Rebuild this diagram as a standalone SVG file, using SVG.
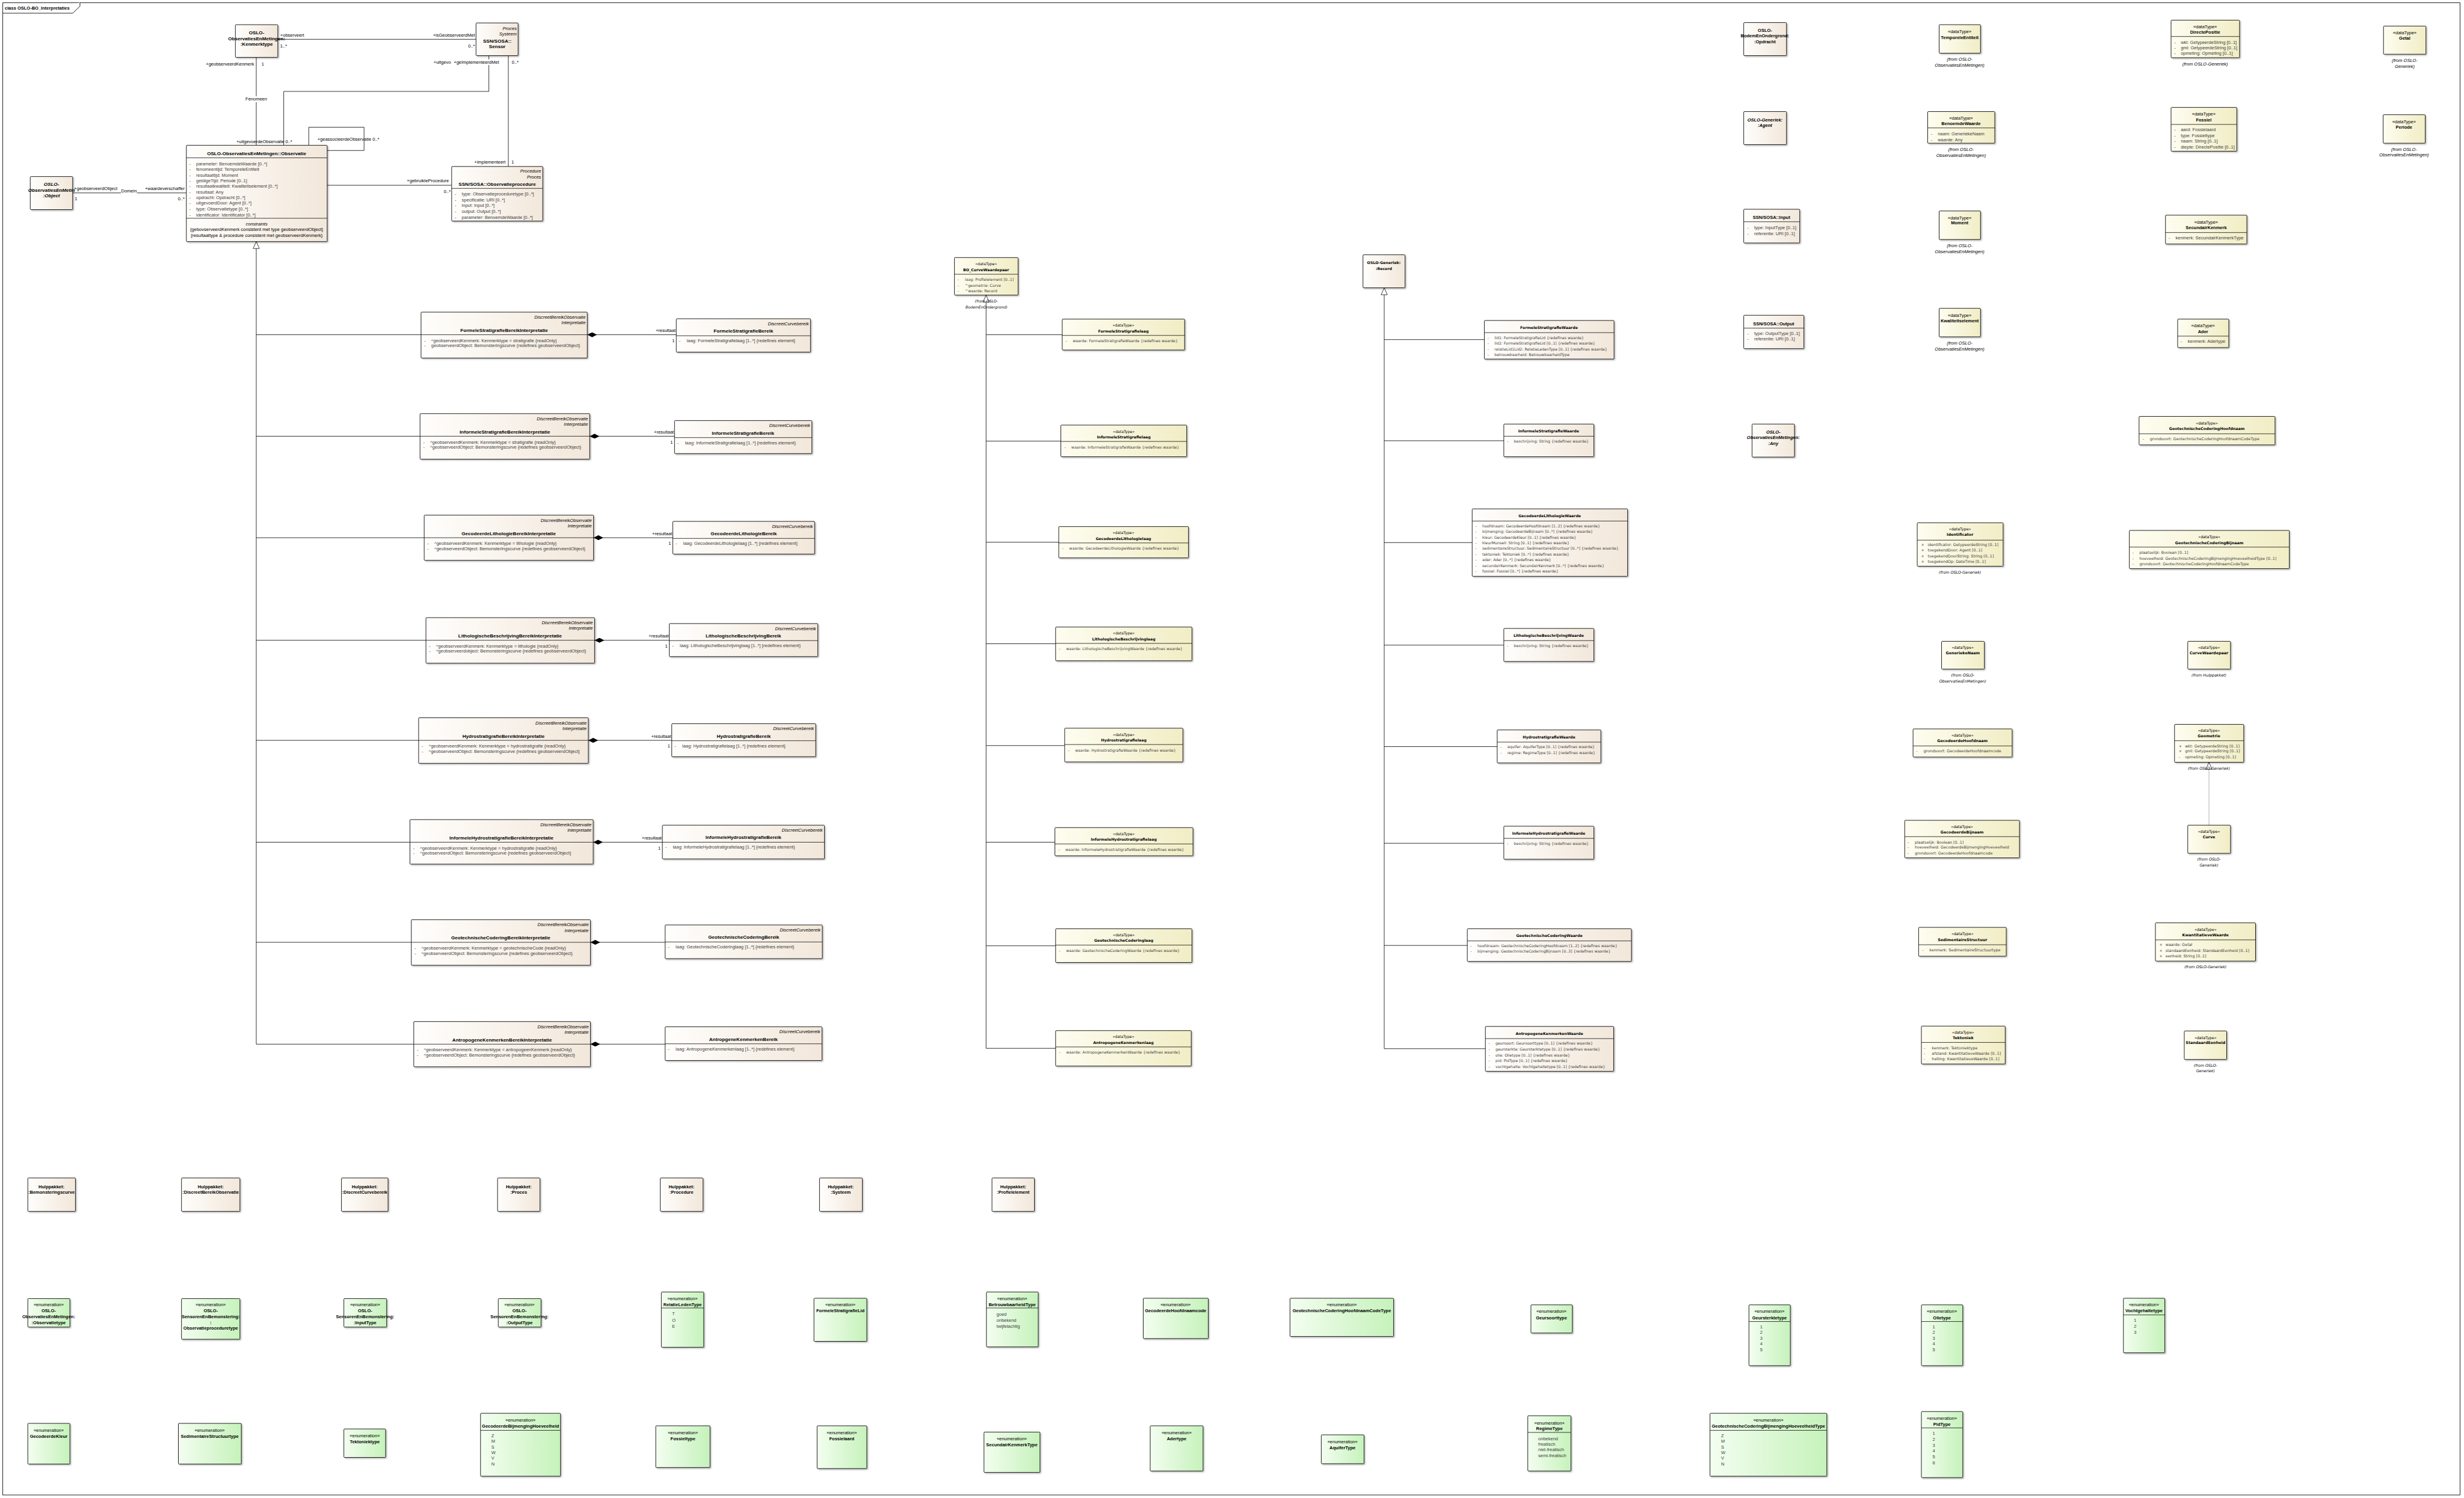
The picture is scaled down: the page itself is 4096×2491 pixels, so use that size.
<svg xmlns="http://www.w3.org/2000/svg" width="4096" height="2491" viewBox="0 0 4096 2491">
<style>
text{font-family:"Liberation Sans",Arial,sans-serif;font-size:13px;fill:#000}
.t{font-weight:bold;font-size:14px}
.t13{font-weight:bold;font-size:13px}
.a{fill:#404040}
.it{font-style:italic}
.m{text-anchor:middle}
.r{text-anchor:end}
.v{font-family:"DejaVu Sans",Verdana,sans-serif;font-size:10.8px}
.w{font-family:"DejaVu Sans",Verdana,sans-serif;font-size:11px}
.bd{font-weight:bold}
.c{fill:url(#gc);stroke:#000;stroke-width:1.5;filter:url(#sh)}
.d{fill:url(#gd);stroke:#000;stroke-width:1.5;filter:url(#sh)}
.e{fill:url(#ge);stroke:#000;stroke-width:1.5;filter:url(#sh)}
.sp{stroke:#000;stroke-width:1.3}
.ln{fill:none;stroke:#000;stroke-width:1.4}
.gen{marker-end:url(#tri)}
.comp{marker-start:url(#dia)}
</style>
<defs>
<linearGradient id="gc" x1="0" y1="0" x2="1" y2="0"><stop offset="0" stop-color="#FFFEFC"/><stop offset="1" stop-color="#F2E7DA"/></linearGradient>
<linearGradient id="gd" x1="0" y1="0" x2="1" y2="0"><stop offset="0" stop-color="#FEFDF0"/><stop offset="1" stop-color="#F1EDC5"/></linearGradient>
<linearGradient id="ge" x1="0" y1="0" x2="1" y2="0"><stop offset="0" stop-color="#F3FEF0"/><stop offset="1" stop-color="#C6F2BB"/></linearGradient>
<filter id="sh" x="-5%" y="-5%" width="115%" height="120%"><feDropShadow dx="3" dy="3" stdDeviation="1.5" flood-color="#000" flood-opacity="0.28"/></filter>
<marker id="dia" viewBox="0 0 28 14" refX="0" refY="7" markerWidth="28" markerHeight="14" markerUnits="userSpaceOnUse" orient="auto"><path d="M0,7 L14,0 L28,7 L14,14 Z" fill="#000"/></marker>
<marker id="tri" viewBox="0 0 22 20" refX="21" refY="10" markerWidth="22" markerHeight="20" markerUnits="userSpaceOnUse" orient="auto"><path d="M1,1 L21,10 L1,19 Z" fill="#fff" stroke="#000" stroke-width="1.3"/></marker>
</defs>
<rect width="4096" height="2491" fill="#fff"/>
<g transform="scale(0.578)">
<g id="frame">
<rect x="8" y="8" width="7067" height="4293" fill="none" stroke="#000" stroke-width="1.5"/>
<path d="M8 38 H209 L230 18 V8" fill="#fff" stroke="#000" stroke-width="1.5"/>
<text class="t13" x="14" y="28">class OSLO-BO_Interpretaties</text>
</g>

<g id="connectors">
<path class="ln" d="M799 113 H1369"/>
<path class="ln" d="M737 165 V418"/>
<path class="ln" d="M1406 160 V263 H816 V418"/>
<path class="ln" d="M1462 160 V479"/>
<path class="ln" d="M888 418 V366 H1047 V433 H941"/>
<path class="ln" d="M209 555 H536"/>
<path class="ln" d="M941 533 H1299"/>
<path class="ln gen" d="M737 3004 V695"/>
<path class="ln" d="M737 963 H1211 M737 1255 H1208 M737 1547 H1220 M737 1842 H1225 M737 2130 H1204 M737 2423 H1179 M737 2711 H1183 M737 3004 H1190"/>
<path class="ln comp" d="M1689 963 H1945"/>
<path class="ln comp" d="M1696 1255 H1940"/>
<path class="ln comp" d="M1707 1547 H1935"/>
<path class="ln comp" d="M1710 1842 H1925"/>
<path class="ln comp" d="M1692 2130 H1932"/>
<path class="ln comp" d="M1706 2423 H1905"/>
<path class="ln comp" d="M1698 2711 H1913"/>
<path class="ln comp" d="M1698 3004 H1913"/>
<path class="ln gen" d="M2836 3016 V849"/>
<path class="ln" d="M2836 963 H3055 M2836 1269 H3051 M2836 1560 H3045 M2836 1852 H3036 M2836 2145 H3062 M2836 2423 H3034 M2836 2721 H3036 M2836 3016 H3036"/>
<path class="ln gen" d="M3981 3017 V828"/>
<path class="ln" d="M3981 977 H4269 M3981 1268 H4325 M3981 1561 H4234 M3981 1856 H4325 M3981 2148 H4306 M3981 2426 H4325 M3981 2720 H4220 M3981 3017 H4272"/>
<path class="gen" d="M6353 2374 V2193" fill="none" stroke="#9a9a9a" stroke-width="1.3"/>
<text x="806" y="105">+observeert</text>
<text x="806" y="137">1..*</text>
<text class="r" x="1366" y="105">+isGeobserveerdMet</text>
<text class="r" x="1366" y="137">0..*</text>
<text class="r" x="731" y="188">+geobserveerdKenmerk</text>
<text x="752" y="188">1</text>
<rect x="705" y="277" width="64" height="17" fill="#fff"/>
<text class="m" x="737" y="289">Fenomeen</text>
<text class="r" x="818" y="412">+uitgevoerdeObservatie</text>
<text x="821" y="412">0..*</text>
<text x="1247" y="183">+uitgevo</text>
<rect x="1303" y="171" width="146" height="16" fill="#fff"/>
<text x="1305" y="183">+geïmplementeerdMet</text>
<text x="1472" y="183">0..*</text>
<text class="r" x="1454" y="470">+implementeert</text>
<text x="1471" y="470">1</text>
<text x="913" y="405">+geassocieerdeObservatie 0..*</text>
<text x="213" y="547">+geobserveerdObject</text>
<text x="215" y="576">1</text>
<rect x="348" y="541" width="46" height="17" fill="#fff"/>
<text class="m" x="371" y="553">Domein</text>
<text class="r" x="531" y="547">+waardeverschaffer</text>
<text class="r" x="531" y="576">0..*</text>
<text class="r" x="1291" y="524">+gebruikteProcedure</text>
<text class="r" x="1296" y="555">0..*</text>
<text class="r" x="1943" y="955">+resultaat</text><text class="r" x="1940" y="984">1</text>
<text class="r" x="1938" y="1247">+resultaat</text><text class="r" x="1935" y="1276">1</text>
<text class="r" x="1933" y="1539">+resultaat</text><text class="r" x="1930" y="1568">1</text>
<text class="r" x="1923" y="1834">+resultaat</text><text class="r" x="1920" y="1863">1</text>
<text class="r" x="1930" y="2122">+resultaat</text><text class="r" x="1927" y="2151">1</text>
<text class="r" x="1903" y="2415">+resultaat</text><text class="r" x="1900" y="2444">1</text>
</g>

<g id="n-kenmerktype">
<rect class="c" x="677" y="71" width="122" height="94" rx="2"/>
<text class="t m" x="738" y="99">OSLO-</text>
<text class="t m" x="738" y="116">ObservatiesEnMetingen:</text>
<text class="t m" x="738" y="132">:Kenmerktype</text>
</g>
<g id="n-sensor">
<rect class="c" x="1369" y="66" width="121" height="94" rx="2"/>
<text class="it r" x="1486" y="86">Proces</text>
<text class="it r" x="1486" y="102">Systeem</text>
<text class="t m" x="1430" y="122">SSN/SOSA::</text>
<text class="t m" x="1430" y="138">Sensor</text>
</g>
<g id="n-object">
<rect class="c" x="87" y="508" width="122" height="95" rx="2"/>
<text class="t it m" x="148" y="535">OSLO-</text>
<text class="t it m" x="148" y="552">ObservatiesEnMetin</text>
<text class="t it m" x="148" y="568">:Object</text>
</g>
<g id="n-observatie">
<rect class="c" x="536" y="418" width="405" height="277" rx="2"/>
<text class="t m" x="738" y="446">OSLO-ObservatiesEnMetingen::Observatie</text>
<line class="sp" x1="536" y1="454" x2="941" y2="454"/>
<text class="a" x="544" y="475">-<tspan x="564">parameter: BenoemdeWaarde [0..*]</tspan></text>
<text class="a" x="544" y="491">-<tspan x="564">fenomeentijd: TemporeleEntiteit</tspan></text>
<text class="a" x="544" y="508">-<tspan x="564">resultaattijd: Moment</tspan></text>
<text class="a" x="544" y="524">-<tspan x="564">geldigeTijd: Periode [0..1]</tspan></text>
<text class="a" x="544" y="540">-<tspan x="564">resultaatkwaliteit: Kwaliteitselement [0..*]</tspan></text>
<text class="a" x="544" y="557">-<tspan x="564">resultaat: Any</tspan></text>
<text class="a" x="544" y="573">-<tspan x="564">opdracht: Opdracht [0..*]</tspan></text>
<text class="a" x="544" y="589">-<tspan x="564">uitgevoerdDoor: Agent [0..*]</tspan></text>
<text class="a" x="544" y="605">-<tspan x="564">type: Observatietype [0..*]</tspan></text>
<text class="a" x="544" y="622">-<tspan x="564">identificator: Identificator [0..*]</tspan></text>
<line class="sp" x1="536" y1="628" x2="941" y2="628"/>
<text class="it m" x="738" y="649">constraints</text>
<text class="m" x="738" y="665">{gebovserveerdKenmerk consistent met type geobserveerdObject}</text>
<text class="m" x="738" y="681">{resultaattype &amp; procedure consistent met geobserveerdKenmerk}</text>
</g>
<g id="n-observatieprocedure">
<rect class="c" x="1299" y="479" width="262" height="157" rx="2"/>
<text class="it r" x="1556" y="497">Procedure</text>
<text class="it r" x="1556" y="514">Proces</text>
<text class="t m" x="1430" y="534">SSN/SOSA::Observatieprocedure</text>
<line class="sp" x1="1299" y1="542" x2="1561" y2="542"/>
<text class="a" x="1308" y="562">-<tspan x="1328">type: Observatieproceduretype [0..*]</tspan></text>
<text class="a" x="1308" y="579">-<tspan x="1328">specificatie: URI [0..*]</tspan></text>
<text class="a" x="1308" y="595">-<tspan x="1328">input: Input [0..*]</tspan></text>
<text class="a" x="1308" y="612">-<tspan x="1328">output: Output [0..*]</tspan></text>
<text class="a" x="1308" y="629">-<tspan x="1328">parameter: BenoemdeWaarde [0..*]</tspan></text>
</g>

<g id="n-formele-interp">
<rect class="c" x="1211" y="898" width="478" height="132" rx="2"/>
<text class="it r" x="1684" y="917">DiscreetBereikObservatie</text><text class="it r" x="1684" y="933">Interpretatie</text>
<text class="t m" x="1450" y="955">FormeleStratigrafieBereikInterpretatie</text>
<line class="sp" x1="1211" y1="963" x2="1689" y2="963"/>
<text class="a" x="1220" y="984">-<tspan x="1240">^geobserveerdKenmerk: Kenmerktype = stratigrafie {readOnly}</tspan></text>
<text class="a" x="1220" y="999">-<tspan x="1240">geobserveerdObject: Bemonsteringscurve {redefines geobserveerdObject}</tspan></text>
</g>
<g id="n-informele-interp">
<rect class="c" x="1208" y="1190" width="488" height="131" rx="2"/>
<text class="it r" x="1691" y="1209">DiscreetBereikObservatie</text><text class="it r" x="1691" y="1225">Interpretatie</text>
<text class="t m" x="1452" y="1247">InformeleStratigrafieBereikInterpretatie</text>
<line class="sp" x1="1208" y1="1255" x2="1696" y2="1255"/>
<text class="a" x="1217" y="1276">-<tspan x="1237">^geobserveerdKenmerk: Kenmerktype = stratigrafie {readOnly}</tspan></text>
<text class="a" x="1217" y="1291">-<tspan x="1237">^geobserveerdObject: Bemonsteringscurve {redefines geobserveerdObject}</tspan></text>
</g>
<g id="n-gecodeerde-interp">
<rect class="c" x="1220" y="1482" width="487" height="130" rx="2"/>
<text class="it r" x="1702" y="1501">DiscreetBereikObservatie</text><text class="it r" x="1702" y="1517">Interpretatie</text>
<text class="t m" x="1463" y="1539">GecodeerdeLithologieBereikInterpretatie</text>
<line class="sp" x1="1220" y1="1547" x2="1707" y2="1547"/>
<text class="a" x="1229" y="1568">-<tspan x="1249">^geobserveerdKenmerk: Kenmerktype = lithologie {readOnly}</tspan></text>
<text class="a" x="1229" y="1583">-<tspan x="1249">^geobserveerdObject: Bemonsteringscurve {redefines geobserveerdObject}</tspan></text>
</g>
<g id="n-litho-interp">
<rect class="c" x="1225" y="1777" width="485" height="131" rx="2"/>
<text class="it r" x="1705" y="1796">DiscreetBereikObservatie</text><text class="it r" x="1705" y="1812">Interpretatie</text>
<text class="t m" x="1467" y="1834">LithologischeBeschrijvingBereikInterpretatie</text>
<line class="sp" x1="1225" y1="1842" x2="1710" y2="1842"/>
<text class="a" x="1234" y="1863">-<tspan x="1254">^geobserveerdKenmerk: Kenmerktype = lithologie {readOnly}</tspan></text>
<text class="a" x="1234" y="1878">-<tspan x="1254">^geobserveerdobject: Bemonsteringscurve {redefines geobserveerdObject}</tspan></text>
</g>
<g id="n-hydro-interp">
<rect class="c" x="1204" y="2065" width="488" height="131" rx="2"/>
<text class="it r" x="1687" y="2084">DiscreetBereikObservatie</text><text class="it r" x="1687" y="2100">Interpretatie</text>
<text class="t m" x="1448" y="2122">HydrostratigrafieBereikInterpretatie</text>
<line class="sp" x1="1204" y1="2130" x2="1692" y2="2130"/>
<text class="a" x="1213" y="2151">-<tspan x="1233">^geobserveerdKenmerk: Kenmerktype = hydrostratigrafie {readOnly}</tspan></text>
<text class="a" x="1213" y="2166">-<tspan x="1233">^geobserveerdObject: Bemonsteringscurve {redefines geobserveerdObject}</tspan></text>
</g>
<g id="n-infohydro-interp">
<rect class="c" x="1179" y="2358" width="527" height="128" rx="2"/>
<text class="it r" x="1701" y="2377">DiscreetBereikObservatie</text><text class="it r" x="1701" y="2393">Interpretatie</text>
<text class="t m" x="1442" y="2415">InformeleHydrostratigrafieBereikInterpretatie</text>
<line class="sp" x1="1179" y1="2423" x2="1706" y2="2423"/>
<text class="a" x="1188" y="2444">-<tspan x="1208">^geobserveerdKenmerk: Kenmerktype = hydrostratigrafie {readOnly}</tspan></text>
<text class="a" x="1188" y="2459">-<tspan x="1208">^geobserveerdObject: Bemonsteringscurve {redefines geobserveerdObject}</tspan></text>
</g>
<g id="n-geotech-interp">
<rect class="c" x="1183" y="2646" width="515" height="131" rx="2"/>
<text class="it r" x="1693" y="2665">DiscreetBereikObservatie</text><text class="it r" x="1693" y="2681">Interpretatie</text>
<text class="t m" x="1440" y="2703">GeotechnischeCoderingBereikInterpretatie</text>
<line class="sp" x1="1183" y1="2711" x2="1698" y2="2711"/>
<text class="a" x="1192" y="2732">-<tspan x="1212">^geobserveerdKenmerk: Kenmerktype = geotechnischeCode {readOnly}</tspan></text>
<text class="a" x="1192" y="2747">-<tspan x="1212">^geobserveerdObject: Bemonsteringscurve {redefines geobserveerdObject}</tspan></text>
</g>
<g id="n-antropo-interp">
<rect class="c" x="1190" y="2939" width="508" height="130" rx="2"/>
<text class="it r" x="1693" y="2958">DiscreetBereikObservatie</text><text class="it r" x="1693" y="2974">Interpretatie</text>
<text class="t m" x="1444" y="2996">AntropogeneKenmerkenBereikInterpretatie</text>
<line class="sp" x1="1190" y1="3004" x2="1698" y2="3004"/>
<text class="a" x="1199" y="3025">-<tspan x="1219">^geobserveerdKenmerk: Kenmerktype = antropogeenKenmerk {readOnly}</tspan></text>
<text class="a" x="1199" y="3040">-<tspan x="1219">^geobserveerdObject: Bemonsteringscurve {redefines geobserveerdObject}</tspan></text>
</g>

<g id="n-formele-bereik">
<rect class="c" x="1945" y="917" width="386" height="96" rx="2"/>
<text class="it r" x="2326" y="936">DiscreetCurvebereik</text>
<text class="t m" x="2138" y="957">FormeleStratigrafieBereik</text>
<line class="sp" x1="1945" y1="966" x2="2331" y2="966"/>
<text class="a" x="1953" y="985">-<tspan x="1975">laag: FormeleStratigrafielaag [1..*] {redefines element}</tspan></text>
</g>
<g id="n-informele-bereik">
<rect class="c" x="1940" y="1210" width="395" height="95" rx="2"/>
<text class="it r" x="2330" y="1229">DiscreetCurvebereik</text>
<text class="t m" x="2137" y="1250">InformeleStratigrafieBereik</text>
<line class="sp" x1="1940" y1="1259" x2="2335" y2="1259"/>
<text class="a" x="1948" y="1278">-<tspan x="1970">laag: InformeleStratigrafielaag [1..*] {redefines element}</tspan></text>
</g>
<g id="n-gecodeerde-bereik">
<rect class="c" x="1935" y="1500" width="408" height="94" rx="2"/>
<text class="it r" x="2338" y="1519">DiscreetCurvebereik</text>
<text class="t m" x="2139" y="1540">GecodeerdeLithologieBereik</text>
<line class="sp" x1="1935" y1="1549" x2="2343" y2="1549"/>
<text class="a" x="1943" y="1568">-<tspan x="1965">laag: GecodeerdeLithologielaag [1..*] {redefines element}</tspan></text>
</g>
<g id="n-litho-bereik">
<rect class="c" x="1925" y="1794" width="427" height="95" rx="2"/>
<text class="it r" x="2347" y="1813">DiscreetCurvebereik</text>
<text class="t m" x="2138" y="1834">LithologischeBeschrijvingBereik</text>
<line class="sp" x1="1925" y1="1843" x2="2352" y2="1843"/>
<text class="a" x="1933" y="1862">-<tspan x="1955">laag: LithologischeBeschrijvinglaag [1..*] {redefines element}</tspan></text>
</g>
<g id="n-hydro-bereik">
<rect class="c" x="1932" y="2082" width="414" height="95" rx="2"/>
<text class="it r" x="2341" y="2101">DiscreetCurvebereik</text>
<text class="t m" x="2139" y="2122">HydrostratigrafieBereik</text>
<line class="sp" x1="1932" y1="2131" x2="2346" y2="2131"/>
<text class="a" x="1940" y="2150">-<tspan x="1962">laag: Hydrostratigrafielaag [1..*] {redefines element}</tspan></text>
</g>
<g id="n-infohydro-bereik">
<rect class="c" x="1905" y="2374" width="466" height="97" rx="2"/>
<text class="it r" x="2366" y="2393">DiscreetCurvebereik</text>
<text class="t m" x="2138" y="2414">InformeleHydrostratigrafieBereik</text>
<line class="sp" x1="1905" y1="2423" x2="2371" y2="2423"/>
<text class="a" x="1913" y="2442">-<tspan x="1935">laag: InformeleHydrostratigrafielaag [1..*] {redefines element}</tspan></text>
</g>
<g id="n-geotech-bereik">
<rect class="c" x="1913" y="2661" width="452" height="97" rx="2"/>
<text class="it r" x="2360" y="2680">DiscreetCurvebereik</text>
<text class="t m" x="2139" y="2701">GeotechnischeCoderingBereik</text>
<line class="sp" x1="1913" y1="2710" x2="2365" y2="2710"/>
<text class="a" x="1921" y="2729">-<tspan x="1943">laag: GeotechnischeCoderinglaag [1..*] {redefines element}</tspan></text>
</g>
<g id="n-antropo-bereik">
<rect class="c" x="1913" y="2954" width="451" height="97" rx="2"/>
<text class="it r" x="2359" y="2973">DiscreetCurvebereik</text>
<text class="t m" x="2138" y="2994">AntropgeneKenmerkenBereik</text>
<line class="sp" x1="1913" y1="3003" x2="2364" y2="3003"/>
<text class="a" x="1921" y="3022">-<tspan x="1943">laag: AntropogeneKenmerkenlaag [1..*] {redefines element}</tspan></text>
</g>

<g id="n-bo-curvewaardepaar">
<rect class="d" x="2745" y="741" width="183" height="108" rx="2"/>
<text class="v m" x="2836" y="763">«dataType»</text>
<text class="v bd m" x="2836" y="780">BO_CurveWaardepaar</text>
<line class="sp" x1="2745" y1="789" x2="2928" y2="789"/>
<text class="v a" x="2754" y="808">-<tspan x="2775">laag: Profielelement [0..1]</tspan></text>
<text class="v a" x="2754" y="825">-<tspan x="2775">^geometrie: Curve</tspan></text>
<text class="v a" x="2754" y="841">-<tspan x="2775">^waarde: Record</tspan></text>
<text class="v it m" x="2837" y="871">(from OSLO-</text>
<text class="v it m" x="2837" y="887">BodemEnOndergrond)</text>
</g>
<g id="n-formele-laag">
<rect class="d" x="3055" y="918" width="352" height="89" rx="2"/>
<text class="v m" x="3231" y="940">«dataType»</text>
<text class="v bd m" x="3231" y="956">FormeleStratigrafielaag</text>
<line class="sp" x1="3055" y1="965" x2="3407" y2="965"/>
<text class="v a" x="3065" y="985">-<tspan x="3085">waarde: FormeleStratigrafieWaarde {redefines waarde}</tspan></text>
</g>
<g id="n-informele-laag">
<rect class="d" x="3051" y="1223" width="362" height="91" rx="2"/>
<text class="v m" x="3232" y="1245">«dataType»</text>
<text class="v bd m" x="3232" y="1261">InformeleStratigrafielaag</text>
<line class="sp" x1="3051" y1="1270" x2="3413" y2="1270"/>
<text class="v a" x="3061" y="1290">-<tspan x="3081">waarde: InformeleStratigrafieWaarde {redefines waarde}</tspan></text>
</g>
<g id="n-gecodeerde-laag">
<rect class="d" x="3045" y="1515" width="373" height="90" rx="2"/>
<text class="v m" x="3231" y="1537">«dataType»</text>
<text class="v bd m" x="3231" y="1553">GecodeerdeLithologielaag</text>
<line class="sp" x1="3045" y1="1562" x2="3418" y2="1562"/>
<text class="v a" x="3055" y="1582">-<tspan x="3075">waarde: GecodeerdeLithologieWaarde {redefines waarde}</tspan></text>
</g>
<g id="n-litho-laag">
<rect class="d" x="3036" y="1804" width="392" height="97" rx="2"/>
<text class="v m" x="3232" y="1826">«dataType»</text>
<text class="v bd m" x="3232" y="1842">LithologischeBeschrijvinglaag</text>
<line class="sp" x1="3036" y1="1851" x2="3428" y2="1851"/>
<text class="v a" x="3046" y="1871">-<tspan x="3066">waarde: LithologischeBeschrijvingWaarde {redefines waarde}</tspan></text>
</g>
<g id="n-hydro-laag">
<rect class="d" x="3062" y="2095" width="340" height="97" rx="2"/>
<text class="v m" x="3232" y="2117">«dataType»</text>
<text class="v bd m" x="3232" y="2133">Hydrostratigrafielaag</text>
<line class="sp" x1="3062" y1="2142" x2="3402" y2="2142"/>
<text class="v a" x="3072" y="2162">-<tspan x="3092">waarde: HydrostratigrafieWaarde {redefines waarde}</tspan></text>
</g>
<g id="n-infohydro-laag">
<rect class="d" x="3034" y="2381" width="397" height="81" rx="2"/>
<text class="v m" x="3232" y="2403">«dataType»</text>
<text class="v bd m" x="3232" y="2419">InformeleHydrostratigrafielaag</text>
<line class="sp" x1="3034" y1="2428" x2="3431" y2="2428"/>
<text class="v a" x="3044" y="2448">-<tspan x="3064">waarde: InformeleHydrostratigrafieWaarde {redefines waarde}</tspan></text>
</g>
<g id="n-geotech-laag">
<rect class="d" x="3036" y="2672" width="392" height="97" rx="2"/>
<text class="v m" x="3232" y="2694">«dataType»</text>
<text class="v bd m" x="3232" y="2710">GeotechnischeCoderinglaag</text>
<line class="sp" x1="3036" y1="2719" x2="3428" y2="2719"/>
<text class="v a" x="3046" y="2739">-<tspan x="3066">waarde: GeotechnischeCoderingWaarde {redefines waarde}</tspan></text>
</g>
<g id="n-antropo-laag">
<rect class="d" x="3036" y="2965" width="390" height="102" rx="2"/>
<text class="v m" x="3231" y="2987">«dataType»</text>
<text class="v bd m" x="3231" y="3003">AntropogeneKenmerkenlaag</text>
<line class="sp" x1="3036" y1="3012" x2="3426" y2="3012"/>
<text class="v a" x="3046" y="3032">-<tspan x="3066">waarde: AntropogeneKenmerkenWaarde {redefines waarde}</tspan></text>
</g>

<g id="n-record">
<rect class="c" x="3920" y="733" width="121" height="95" rx="2"/>
<text class="v bd m" x="3980" y="760">OSLO-Generiek:</text>
<text class="v bd m" x="3980" y="776">:Record</text>
</g>
<g id="n-formele-waarde">
<rect class="c" x="4269" y="922" width="373" height="111" rx="2"/>
<text class="v bd m" x="4455" y="946">FormeleStratigrafieWaarde</text>
<line class="sp" x1="4269" y1="957" x2="4642" y2="957"/>
<text class="v a" x="4278" y="975">-<tspan x="4298">lid1: FormeleStratigrafieLid {redefines waarde}</tspan></text>
<text class="v a" x="4278" y="991">-<tspan x="4298">lid2: FormeleStratigrafieLid [0..1] {redefines waarde}</tspan></text>
<text class="v a" x="4278" y="1008">-<tspan x="4298">relatieLid1Lid2: RelatieLedenType [0..1] {redefines waarde}</tspan></text>
<text class="v a" x="4278" y="1024">-<tspan x="4298">betrouwbaarheid: BetrouwbaarheidType</tspan></text>
</g>
<g id="n-informele-waarde">
<rect class="c" x="4325" y="1220" width="259" height="94" rx="2"/>
<text class="v bd m" x="4454" y="1244">InformeleStratigrafieWaarde</text>
<line class="sp" x1="4325" y1="1255" x2="4584" y2="1255"/>
<text class="v a" x="4334" y="1273">-<tspan x="4354">beschrijving: String {redefines waarde}</tspan></text>
</g>
<g id="n-gecodeerde-waarde">
<rect class="c" x="4234" y="1464" width="447" height="194" rx="2"/>
<text class="v bd m" x="4457" y="1488">GecodeerdeLithologieWaarde</text>
<line class="sp" x1="4234" y1="1499" x2="4681" y2="1499"/>
<text class="v a" x="4243" y="1517">-<tspan x="4263">hoofdnaam: GecodeerdeHoofdnaam [1..2] {redefines waarde}</tspan></text>
<text class="v a" x="4243" y="1533">-<tspan x="4263">bijmenging: GecodeerdeBijnaam [0..*] {redefines waarde}</tspan></text>
<text class="v a" x="4243" y="1550">-<tspan x="4263">kleur: GecodeerdeKleur [0..1] {redefines waarde}</tspan></text>
<text class="v a" x="4243" y="1566">-<tspan x="4263">kleurMunsell: String [0..1] {redefines waarde}</tspan></text>
<text class="v a" x="4243" y="1582">-<tspan x="4263">sedimentaireStructuur: SedimentaireStructuur [0..*] {redefines waarde}</tspan></text>
<text class="v a" x="4243" y="1598">-<tspan x="4263">tektoniek: Tektoniek [0..*] {redefines waarde}</tspan></text>
<text class="v a" x="4243" y="1615">-<tspan x="4263">ader: Ader [0..*] {redefines waarde}</tspan></text>
<text class="v a" x="4243" y="1631">-<tspan x="4263">secundairKenmerk: SecundairKenmerk [0..*] {redefines waarde}</tspan></text>
<text class="v a" x="4243" y="1647">-<tspan x="4263">fossiel: Fossiel [0..*] {redefines waarde}</tspan></text>
</g>
<g id="n-litho-waarde">
<rect class="c" x="4325" y="1808" width="259" height="95" rx="2"/>
<text class="v bd m" x="4454" y="1832">LithologischeBeschrijvingWaarde</text>
<line class="sp" x1="4325" y1="1843" x2="4584" y2="1843"/>
<text class="v a" x="4334" y="1861">-<tspan x="4354">beschrijving: String {redefines waarde}</tspan></text>
</g>
<g id="n-hydro-waarde">
<rect class="c" x="4306" y="2100" width="298" height="95" rx="2"/>
<text class="v bd m" x="4455" y="2124">HydrostratigrafieWaarde</text>
<line class="sp" x1="4306" y1="2135" x2="4604" y2="2135"/>
<text class="v a" x="4315" y="2153">-<tspan x="4335">aquifer: AquiferType [0..1] {redefines waarde}</tspan></text>
<text class="v a" x="4315" y="2169">-<tspan x="4335">regime: RegimeType [0..1] {redefines waarde}</tspan></text>
</g>
<g id="n-infohydro-waarde">
<rect class="c" x="4325" y="2377" width="259" height="95" rx="2"/>
<text class="v bd m" x="4454" y="2401">InformeleHydrostratigrafieWaarde</text>
<line class="sp" x1="4325" y1="2412" x2="4584" y2="2412"/>
<text class="v a" x="4334" y="2430">-<tspan x="4354">beschrijving: String {redefines waarde}</tspan></text>
</g>
<g id="n-geotech-waarde">
<rect class="c" x="4220" y="2672" width="472" height="94" rx="2"/>
<text class="v bd m" x="4456" y="2696">GeotechnischeCoderingWaarde</text>
<line class="sp" x1="4220" y1="2707" x2="4692" y2="2707"/>
<text class="v a" x="4229" y="2725">-<tspan x="4249">hoofdnaam: GeotechnischeCoderingHoofdnaam [1..2] {redefines waarde}</tspan></text>
<text class="v a" x="4229" y="2741">-<tspan x="4249">bijmenging: GeotechnischeCoderingBijnaam [0..3] {redefines waarde}</tspan></text>
</g>
<g id="n-antropo-waarde">
<rect class="c" x="4272" y="2953" width="369" height="129" rx="2"/>
<text class="v bd m" x="4456" y="2977">AntropogeneKenmerkenWaarde</text>
<line class="sp" x1="4272" y1="2988" x2="4641" y2="2988"/>
<text class="v a" x="4281" y="3006">-<tspan x="4301">geursoort: Geursoorttype [0..1] {redefines waarde}</tspan></text>
<text class="v a" x="4281" y="3022">-<tspan x="4301">geursterkte: Geursterktetype [0..1] {redefines waarde}</tspan></text>
<text class="v a" x="4281" y="3039">-<tspan x="4301">olie: Olietype [0..1] {redefines waarde}</tspan></text>
<text class="v a" x="4281" y="3055">-<tspan x="4301">pid: PidType [0..1] {redefines waarde}</tspan></text>
<text class="v a" x="4281" y="3072">-<tspan x="4301">vochtgehalte: Vochtgehaltetype [0..1] {redefines waarde}</tspan></text>
</g>

<g id="n-opdracht">
<rect class="c" x="5015" y="65" width="123" height="95" rx="2"/>
<text class="t13 m" x="5076" y="91">OSLO-</text>
<text class="t13 m" x="5076" y="107">BodemEnOndergrond:</text>
<text class="t13 m" x="5076" y="124">:Opdracht</text>
</g>
<g id="n-agent">
<rect class="c" x="5015" y="321" width="123" height="95" rx="2"/>
<text class="t13 it m" x="5076" y="349">OSLO-Generiek:</text>
<text class="t13 it m" x="5076" y="365">:Agent</text>
</g>
<g id="n-input">
<rect class="c" x="5015" y="602" width="161" height="97" rx="2"/>
<text class="t13 m" x="5095" y="630">SSN/SOSA::Input</text>
<line class="sp" x1="5015" y1="638" x2="5176" y2="638"/>
<text class="a" x="5025" y="659">-<tspan x="5045">type: InputType [0..1]</tspan></text>
<text class="a" x="5025" y="676">-<tspan x="5045">referentie: URI [0..1]</tspan></text>
</g>
<g id="n-output">
<rect class="c" x="5015" y="907" width="173" height="96" rx="2"/>
<text class="t13 m" x="5101" y="936">SSN/SOSA::Output</text>
<line class="sp" x1="5015" y1="944" x2="5188" y2="944"/>
<text class="a" x="5025" y="963">-<tspan x="5045">type: OutputType [0..1]</tspan></text>
<text class="a" x="5025" y="980">-<tspan x="5045">referentie: URI [0..1]</tspan></text>
</g>
<g id="n-any">
<rect class="c" x="5039" y="1220" width="122" height="95" rx="2"/>
<text class="t13 it m" x="5100" y="1247">OSLO-</text>
<text class="t13 it m" x="5100" y="1263">ObservatiesEnMetingen:</text>
<text class="t13 it m" x="5100" y="1280">:Any</text>
</g>
<g id="n-temporele">
<rect class="d" x="5577" y="71" width="119" height="82" rx="2"/>
<text class="m" x="5636" y="95">«dataType»</text>
<text class="t13 m" x="5636" y="112">TemporeleEntiteit</text>
<text class="it m" x="5636" y="175">(from OSLO-</text>
<text class="it m" x="5636" y="192">ObservatiesEnMetingen)</text>
</g>
<g id="n-benoemdewaarde">
<rect class="d" x="5544" y="321" width="193" height="91" rx="2"/>
<text class="m" x="5640" y="345">«dataType»</text>
<text class="t13 m" x="5640" y="360">BenoemdeWaarde</text>
<line class="sp" x1="5544" y1="368" x2="5737" y2="368"/>
<text class="a" x="5553" y="389">-<tspan x="5573">naam: GeneriekeNaam</tspan></text>
<text class="a" x="5553" y="406">-<tspan x="5573">waarde: Any</tspan></text>
<text class="it m" x="5640" y="434">(from OSLO-</text>
<text class="it m" x="5640" y="451">ObservatiesEnMetingen)</text>
</g>
<g id="n-moment">
<rect class="d" x="5577" y="607" width="119" height="82" rx="2"/>
<text class="m" x="5636" y="631">«dataType»</text>
<text class="t13 m" x="5636" y="646">Moment</text>
<text class="it m" x="5636" y="711">(from OSLO-</text>
<text class="it m" x="5636" y="728">ObservatiesEnMetingen)</text>
</g>
<g id="n-kwaliteitselement">
<rect class="d" x="5577" y="887" width="119" height="82" rx="2"/>
<text class="m" x="5636" y="911">«dataType»</text>
<text class="t13 m" x="5636" y="927">Kwaliteitselement</text>
<text class="it m" x="5636" y="991">(from OSLO-</text>
<text class="it m" x="5636" y="1008">ObservatiesEnMetingen)</text>
</g>
<g id="n-directepositie">
<rect class="d" x="6244" y="58" width="197" height="108" rx="2"/>
<text class="m" x="6342" y="81">«dataType»</text>
<text class="t13 m" x="6342" y="97">DirectePositie</text>
<line class="sp" x1="6244" y1="105" x2="6441" y2="105"/>
<text class="a" x="6253" y="126">-<tspan x="6272">wkt: GetypeerdeString [0..1]</tspan></text>
<text class="a" x="6253" y="142">-<tspan x="6272">gml: GetypeerdeString [0..1]</tspan></text>
<text class="a" x="6253" y="158">-<tspan x="6272">opmeting: Opmeting [0..1]</tspan></text>
<text class="it m" x="6342" y="189">(from OSLO-Generiek)</text>
</g>
<g id="n-fossiel">
<rect class="d" x="6244" y="309" width="189" height="126" rx="2"/>
<text class="m" x="6338" y="333">«dataType»</text>
<text class="t13 m" x="6338" y="349">Fossiel</text>
<line class="sp" x1="6244" y1="358" x2="6433" y2="358"/>
<text class="a" x="6253" y="378">-<tspan x="6272">aard: Fossielaard</tspan></text>
<text class="a" x="6253" y="394">-<tspan x="6272">type: Fossieltype</tspan></text>
<text class="a" x="6253" y="410">-<tspan x="6272">naam: String [0..1]</tspan></text>
<text class="a" x="6253" y="427">-<tspan x="6272">diepte: DirectePositie [0..1]</tspan></text>
</g>
<g id="n-secundairkenmerk">
<rect class="d" x="6228" y="619" width="234" height="83" rx="2"/>
<text class="m" x="6345" y="643">«dataType»</text>
<text class="t13 m" x="6345" y="659">SecundairKenmerk</text>
<line class="sp" x1="6228" y1="669" x2="6462" y2="669"/>
<text class="a" x="6237" y="689">-<tspan x="6257">kenmerk: SecundairKenmerkType</tspan></text>
</g>
<g id="n-ader">
<rect class="d" x="6263" y="918" width="147" height="82" rx="2"/>
<text class="m" x="6336" y="942">«dataType»</text>
<text class="t13 m" x="6336" y="958">Ader</text>
<line class="sp" x1="6263" y1="967" x2="6410" y2="967"/>
<text class="a" x="6271" y="987">-<tspan x="6292">kenmerk: Adertype</tspan></text>
</g>
<g id="n-getal">
<rect class="d" x="6855" y="75" width="122" height="81" rx="2"/>
<text class="m" x="6916" y="98">«dataType»</text>
<text class="t13 m" x="6916" y="115">Getal</text>
<text class="it m" x="6916" y="179">(from OSLO-</text>
<text class="it m" x="6916" y="195">Generiek)</text>
</g>
<g id="n-periode">
<rect class="d" x="6854" y="330" width="121" height="82" rx="2"/>
<text class="m" x="6914" y="354">«dataType»</text>
<text class="t13 m" x="6914" y="370">Periode</text>
<text class="it m" x="6914" y="434">(from OSLO-</text>
<text class="it m" x="6914" y="450">ObservatiesEnMetingen)</text>
</g>

<g id="n-geotech-hoofdnaam">
<rect class="d" x="6152" y="1198" width="391" height="82" rx="2"/>
<text class="w m" x="6347" y="1222">«dataType»</text>
<text class="w bd m" x="6347" y="1237">GeotechnischeCoderingHoofdnaam</text>
<line class="sp" x1="6152" y1="1248" x2="6543" y2="1248"/>
<text class="w a" x="6162" y="1267">-<tspan x="6183">grondsoort: GeotechnischeCoderingHoofdnaamCodeType</tspan></text>
</g>
<g id="n-identificator">
<rect class="d" x="5514" y="1504" width="247" height="125" rx="2"/>
<text class="w m" x="5637" y="1526">«dataType»</text>
<text class="w bd m" x="5637" y="1542">Identificator</text>
<line class="sp" x1="5514" y1="1554" x2="5761" y2="1554"/>
<text class="w a" x="5525" y="1571">+<tspan x="5544">identificator: GetypeerdeString [0..1]</tspan></text>
<text class="w a" x="5525" y="1586">+<tspan x="5544">toegekendDoor: Agent [0..1]</tspan></text>
<text class="w a" x="5525" y="1603">+<tspan x="5544">toegekendDoorString: String [0..1]</tspan></text>
<text class="w a" x="5525" y="1620">+<tspan x="5544">toegekendOp: DateTime [0..1]</tspan></text>
<text class="w it m" x="5637" y="1650">(from OSLO-Generiek)</text>
</g>
<g id="n-geotech-bijnaam">
<rect class="d" x="6124" y="1526" width="460" height="110" rx="2"/>
<text class="w m" x="6354" y="1548">«dataType»</text>
<text class="w bd m" x="6354" y="1565">GeotechnischeCoderingBijnaam</text>
<line class="sp" x1="6124" y1="1574" x2="6584" y2="1574"/>
<text class="w a" x="6133" y="1594">-<tspan x="6153">plaatselijk: Boolean [0..1]</tspan></text>
<text class="w a" x="6133" y="1611">-<tspan x="6153">hoeveelheid: GeotechnischeCoderingBijmengingHoeveelheidType [0..1]</tspan></text>
<text class="w a" x="6133" y="1627">-<tspan x="6153">grondsoort: GeotechnischeCoderingHoofdnaamCodeType</tspan></text>
</g>
<g id="n-generiekenaam">
<rect class="d" x="5584" y="1845" width="123" height="80" rx="2"/>
<text class="w m" x="5645" y="1866">«dataType»</text>
<text class="w bd m" x="5645" y="1882">GeneriekeNaam</text>
<text class="w it m" x="5645" y="1946">(from OSLO-</text>
<text class="w it m" x="5645" y="1963">ObservatiesEnMetingen)</text>
</g>
<g id="n-curvewaardepaar">
<rect class="d" x="6292" y="1845" width="123" height="80" rx="2"/>
<text class="w m" x="6353" y="1866">«dataType»</text>
<text class="w bd m" x="6353" y="1882">CurveWaardepaar</text>
<text class="w it m" x="6353" y="1946">(from Hulppakket)</text>
</g>
<g id="n-gecodeerdehoofdnaam">
<rect class="d" x="5502" y="2097" width="285" height="81" rx="2"/>
<text class="w m" x="5644" y="2120">«dataType»</text>
<text class="w bd m" x="5644" y="2135">GecodeerdeHoofdnaam</text>
<line class="sp" x1="5502" y1="2146" x2="5787" y2="2146"/>
<text class="w a" x="5511" y="2165">-<tspan x="5532">grondsoort: GecodeerdeHoofdnaamcode</tspan></text>
</g>
<g id="n-geometrie">
<rect class="d" x="6254" y="2084" width="199" height="109" rx="2"/>
<text class="w m" x="6353" y="2105">«dataType»</text>
<text class="w bd m" x="6353" y="2121">Geometrie</text>
<line class="sp" x1="6254" y1="2131" x2="6453" y2="2131"/>
<text class="w a" x="6266" y="2150">+<tspan x="6284">wkt: GetypeerdeString [0..1]</tspan></text>
<text class="w a" x="6266" y="2165">+<tspan x="6284">gml: GetypeerdeString [0..1]</tspan></text>
<text class="w a" x="6266" y="2182">-<tspan x="6284">opmeting: Opmeting [0..1]</tspan></text>
<text class="w it m" x="6353" y="2214">(from OSLO-Generiek)</text>
</g>
<g id="n-gecodeerdebijnaam">
<rect class="d" x="5478" y="2360" width="330" height="108" rx="2"/>
<text class="w m" x="5643" y="2382">«dataType»</text>
<text class="w bd m" x="5643" y="2398">GecodeerdeBijnaam</text>
<line class="sp" x1="5478" y1="2407" x2="5808" y2="2407"/>
<text class="w a" x="5486" y="2427">-<tspan x="5507">plaatselijk: Boolean [0..1]</tspan></text>
<text class="w a" x="5486" y="2442">-<tspan x="5507">hoeveelheid: GecodeerdeBijmengingHoeveelheid</tspan></text>
<text class="w a" x="5486" y="2458">-<tspan x="5507">grondsoort: GecodeerdeHoofdnaamcode</tspan></text>
</g>
<g id="n-curve">
<rect class="d" x="6292" y="2374" width="123" height="81" rx="2"/>
<text class="w m" x="6353" y="2397">«dataType»</text>
<text class="w bd m" x="6353" y="2412">Curve</text>
<text class="w it m" x="6353" y="2476">(from OSLO-</text>
<text class="w it m" x="6353" y="2493">Generiek)</text>
</g>
<g id="n-sedimentairestructuur">
<rect class="d" x="5518" y="2668" width="252" height="83" rx="2"/>
<text class="w m" x="5644" y="2691">«dataType»</text>
<text class="w bd m" x="5644" y="2708">SedimentaireStructuur</text>
<line class="sp" x1="5518" y1="2718" x2="5770" y2="2718"/>
<text class="w a" x="5528" y="2737">-<tspan x="5549">kenmerk: SedimentaireStructuurtype</tspan></text>
</g>
<g id="n-kwantitatievewaarde">
<rect class="d" x="6199" y="2655" width="288" height="110" rx="2"/>
<text class="w m" x="6343" y="2678">«dataType»</text>
<text class="w bd m" x="6343" y="2693">KwantitatieveWaarde</text>
<line class="sp" x1="6199" y1="2704" x2="6487" y2="2704"/>
<text class="w a" x="6210" y="2722">+<tspan x="6228">waarde: Getal</tspan></text>
<text class="w a" x="6210" y="2739">+<tspan x="6228">standaardEenheid: StandaardEenheid [0..1]</tspan></text>
<text class="w a" x="6210" y="2755">+<tspan x="6228">eenheid: String [0..1]</tspan></text>
<text class="w it m" x="6343" y="2786">(from OSLO-Generiek)</text>
</g>
<g id="n-tektoniek">
<rect class="d" x="5526" y="2952" width="241" height="109" rx="2"/>
<text class="w m" x="5646" y="2974">«dataType»</text>
<text class="w bd m" x="5646" y="2990">Tektoniek</text>
<line class="sp" x1="5526" y1="2999" x2="5767" y2="2999"/>
<text class="w a" x="5533" y="3019">-<tspan x="5556">kenmerk: Tektoniektype</tspan></text>
<text class="w a" x="5533" y="3034">-<tspan x="5556">afstand: KwantitatieveWaarde [0..1]</tspan></text>
<text class="w a" x="5533" y="3051">-<tspan x="5556">helling: KwantitatieveWaarde [0..1]</tspan></text>
</g>
<g id="n-standaardeenheid">
<rect class="d" x="6282" y="2966" width="122" height="82" rx="2"/>
<text class="w m" x="6343" y="2989">«dataType»</text>
<text class="w bd m" x="6343" y="3004">StandaardEenheid</text>
<text class="w it m" x="6343" y="3069">(from OSLO-</text>
<text class="w it m" x="6343" y="3085">Generiek)</text>
</g>

<g id="n-hp-bemonsteringscurve"><rect class="c" x="80" y="3389" width="137" height="96" rx="2"/><text class="t13 m" x="148" y="3418">Hulppakket:</text><text class="t13 m" x="148" y="3434">:Bemonsteringscurve</text></g>
<g id="n-hp-discreetbereikobservatie"><rect class="c" x="522" y="3389" width="168" height="96" rx="2"/><text class="t13 m" x="606" y="3418">Hulppakket:</text><text class="t13 m" x="606" y="3434">:DiscreetBereikObservatie</text></g>
<g id="n-hp-discreetcurvebereik"><rect class="c" x="982" y="3389" width="134" height="96" rx="2"/><text class="t13 m" x="1049" y="3418">Hulppakket:</text><text class="t13 m" x="1049" y="3434">:DiscreetCurvebereik</text></g>
<g id="n-hp-proces"><rect class="c" x="1431" y="3389" width="122" height="96" rx="2"/><text class="t13 m" x="1492" y="3418">Hulppakket:</text><text class="t13 m" x="1492" y="3434">:Proces</text></g>
<g id="n-hp-procedure"><rect class="c" x="1899" y="3389" width="123" height="96" rx="2"/><text class="t13 m" x="1960" y="3418">Hulppakket:</text><text class="t13 m" x="1960" y="3434">:Procedure</text></g>
<g id="n-hp-systeem"><rect class="c" x="2357" y="3389" width="123" height="96" rx="2"/><text class="t13 m" x="2418" y="3418">Hulppakket:</text><text class="t13 m" x="2418" y="3434">:Systeem</text></g>
<g id="n-hp-profielelement"><rect class="c" x="2853" y="3389" width="122" height="96" rx="2"/><text class="t13 m" x="2914" y="3418">Hulppakket:</text><text class="t13 m" x="2914" y="3434">:Profielelement</text></g>

<g id="n-en-observatietype"><rect class="e" x="80" y="3736" width="121" height="82" rx="2"/><text class="m" x="140" y="3758">«enumeration»</text><text class="t13 m" x="140" y="3775">OSLO-</text><text class="t13 m" x="140" y="3792">ObservatiesEnMetingen:</text><text class="t13 m" x="140" y="3809">:Observatietype</text></g>
<g id="n-en-observatieproceduretype"><rect class="e" x="522" y="3736" width="168" height="117" rx="2"/><text class="m" x="606" y="3758">«enumeration»</text><text class="t13 m" x="606" y="3775">OSLO-</text><text class="t13 m" x="606" y="3792">SensorenEnBemonstering:</text><text class="t13 m" x="606" y="3809">:</text><text class="t13 m" x="606" y="3826">Observatieproceduretype</text></g>
<g id="n-en-inputtype"><rect class="e" x="989" y="3736" width="123" height="82" rx="2"/><text class="m" x="1050" y="3758">«enumeration»</text><text class="t13 m" x="1050" y="3775">OSLO-</text><text class="t13 m" x="1050" y="3792">SensorenEnBemonstering:</text><text class="t13 m" x="1050" y="3809">:InputType</text></g>
<g id="n-en-outputtype"><rect class="e" x="1433" y="3736" width="123" height="82" rx="2"/><text class="m" x="1494" y="3758">«enumeration»</text><text class="t13 m" x="1494" y="3775">OSLO-</text><text class="t13 m" x="1494" y="3792">SensorenEnBemonstering:</text><text class="t13 m" x="1494" y="3809">:OutputType</text></g>
<g id="n-en-relatieledentype"><rect class="e" x="1902" y="3717" width="122" height="159" rx="2"/><text class="m" x="1963" y="3740">«enumeration»</text><text class="t13 m" x="1963" y="3757">RelatieLedenType</text><line class="sp" x1="1902" y1="3763" x2="2024" y2="3763"/><text class="a" x="1933" y="3784">T</text><text class="a" x="1933" y="3802">O</text><text class="a" x="1933" y="3820">E</text></g>
<g id="n-en-formelestratigrafielid"><rect class="e" x="2341" y="3735" width="152" height="124" rx="2"/><text class="m" x="2417" y="3758">«enumeration»</text><text class="t13 m" x="2417" y="3775">FormeleStratigrafieLid</text></g>
<g id="n-en-betrouwbaarheidtype"><rect class="e" x="2837" y="3717" width="149" height="158" rx="2"/><text class="m" x="2911" y="3740">«enumeration»</text><text class="t13 m" x="2911" y="3757">BetrouwbaarheidType</text><line class="sp" x1="2837" y1="3763" x2="2986" y2="3763"/><text class="a" x="2866" y="3786">goed</text><text class="a" x="2866" y="3802">onbekend</text><text class="a" x="2866" y="3820">twijfelachtig</text></g>
<g id="n-en-gecodeerdehoofdnaamcode"><rect class="e" x="3288" y="3735" width="187" height="116" rx="2"/><text class="m" x="3381" y="3758">«enumeration»</text><text class="t13 m" x="3381" y="3775">GecodeerdeHoofdnaamcode</text></g>
<g id="n-en-geotechhoofdnaamcodetype"><rect class="e" x="3710" y="3735" width="298" height="110" rx="2"/><text class="m" x="3859" y="3758">«enumeration»</text><text class="t13 m" x="3859" y="3775">GeotechnischeCoderingHoofdnaamCodeType</text></g>
<g id="n-en-geursoorttype"><rect class="e" x="4403" y="3754" width="119" height="81" rx="2"/><text class="m" x="4462" y="3777">«enumeration»</text><text class="t13 m" x="4462" y="3795">Geursoorttype</text></g>
<g id="n-en-geursterktetype"><rect class="e" x="5030" y="3754" width="119" height="175" rx="2"/><text class="m" x="5089" y="3777">«enumeration»</text><text class="t13 m" x="5089" y="3795">Geursterktetype</text><line class="sp" x1="5030" y1="3802" x2="5149" y2="3802"/><text class="a" x="5062" y="3822">1</text><text class="a" x="5062" y="3838">2</text><text class="a" x="5062" y="3855">3</text><text class="a" x="5062" y="3871">4</text><text class="a" x="5062" y="3888">5</text></g>
<g id="n-en-olietype"><rect class="e" x="5526" y="3754" width="119" height="175" rx="2"/><text class="m" x="5585" y="3777">«enumeration»</text><text class="t13 m" x="5585" y="3795">Olietype</text><line class="sp" x1="5526" y1="3802" x2="5645" y2="3802"/><text class="a" x="5558" y="3822">1</text><text class="a" x="5558" y="3838">2</text><text class="a" x="5558" y="3855">3</text><text class="a" x="5558" y="3871">4</text><text class="a" x="5558" y="3888">5</text></g>
<g id="n-en-vochtgehaltetype"><rect class="e" x="6107" y="3735" width="119" height="157" rx="2"/><text class="m" x="6166" y="3758">«enumeration»</text><text class="t13 m" x="6166" y="3775">Vochtgehaltetype</text><line class="sp" x1="6107" y1="3783" x2="6226" y2="3783"/><text class="a" x="6137" y="3803">1</text><text class="a" x="6137" y="3820">2</text><text class="a" x="6137" y="3837">3</text></g>

<g id="n-en-gecodeerdekleur"><rect class="e" x="80" y="4095" width="121" height="117" rx="2"/><text class="m" x="140" y="4119">«enumeration»</text><text class="t13 m" x="140" y="4136">GecodeerdeKleur</text></g>
<g id="n-en-sedimentairestructuurtype"><rect class="e" x="513" y="4095" width="181" height="117" rx="2"/><text class="m" x="603" y="4119">«enumeration»</text><text class="t13 m" x="603" y="4136">SedimentaireStructuurtype</text></g>
<g id="n-en-tektoniektype"><rect class="e" x="989" y="4111" width="120" height="82" rx="2"/><text class="m" x="1049" y="4135">«enumeration»</text><text class="t13 m" x="1049" y="4152">Tektoniektype</text></g>
<g id="n-en-gecodeerdebijmenging"><rect class="e" x="1382" y="4066" width="230" height="181" rx="2"/><text class="m" x="1497" y="4090">«enumeration»</text><text class="t13 m" x="1497" y="4107">GecodeerdeBijmengingHoeveelheid</text><line class="sp" x1="1382" y1="4115" x2="1612" y2="4115"/><text class="a" x="1413" y="4135">Z</text><text class="a" x="1413" y="4151">M</text><text class="a" x="1413" y="4167">S</text><text class="a" x="1413" y="4183">W</text><text class="a" x="1413" y="4199">V</text><text class="a" x="1413" y="4216">N</text></g>
<g id="n-en-fossieltype"><rect class="e" x="1886" y="4102" width="156" height="120" rx="2"/><text class="m" x="1964" y="4126">«enumeration»</text><text class="t13 m" x="1964" y="4143">Fossieltype</text></g>
<g id="n-en-fossielaard"><rect class="e" x="2350" y="4102" width="143" height="123" rx="2"/><text class="m" x="2421" y="4126">«enumeration»</text><text class="t13 m" x="2421" y="4143">Fossielaard</text></g>
<g id="n-en-secundairkenmerktype"><rect class="e" x="2830" y="4120" width="161" height="116" rx="2"/><text class="m" x="2910" y="4144">«enumeration»</text><text class="t13 m" x="2910" y="4161">SecundairKenmerkType</text></g>
<g id="n-en-adertype"><rect class="e" x="3308" y="4102" width="152" height="130" rx="2"/><text class="m" x="3384" y="4126">«enumeration»</text><text class="t13 m" x="3384" y="4143">Adertype</text></g>
<g id="n-en-aquifertype"><rect class="e" x="3800" y="4128" width="123" height="83" rx="2"/><text class="m" x="3861" y="4152">«enumeration»</text><text class="t13 m" x="3861" y="4169">AquiferType</text></g>
<g id="n-en-regimetype"><rect class="e" x="4394" y="4073" width="124" height="159" rx="2"/><text class="m" x="4456" y="4098">«enumeration»</text><text class="t13 m" x="4456" y="4114">RegimeType</text><line class="sp" x1="4394" y1="4121" x2="4518" y2="4121"/><text class="a" x="4424" y="4143">onbekend</text><text class="a" x="4424" y="4159">freatisch</text><text class="a" x="4424" y="4175">niet-freatisch</text><text class="a" x="4424" y="4192">semi-freatisch</text></g>
<g id="n-en-geotechbijmenging"><rect class="e" x="4918" y="4066" width="336" height="181" rx="2"/><text class="m" x="5086" y="4090">«enumeration»</text><text class="t13 m" x="5086" y="4107">GeotechnischeCoderingBijmengingHoeveelheidType</text><line class="sp" x1="4918" y1="4115" x2="5254" y2="4115"/><text class="a" x="4950" y="4135">Z</text><text class="a" x="4950" y="4151">M</text><text class="a" x="4950" y="4167">S</text><text class="a" x="4950" y="4183">W</text><text class="a" x="4950" y="4199">V</text><text class="a" x="4950" y="4216">N</text></g>
<g id="n-en-pidtype"><rect class="e" x="5526" y="4061" width="119" height="190" rx="2"/><text class="m" x="5585" y="4084">«enumeration»</text><text class="t13 m" x="5585" y="4102">PidType</text><line class="sp" x1="5526" y1="4108" x2="5645" y2="4108"/><text class="a" x="5558" y="4128">1</text><text class="a" x="5558" y="4145">2</text><text class="a" x="5558" y="4162">3</text><text class="a" x="5558" y="4178">4</text><text class="a" x="5558" y="4195">5</text><text class="a" x="5558" y="4212">6</text></g>
</g>
</svg>
